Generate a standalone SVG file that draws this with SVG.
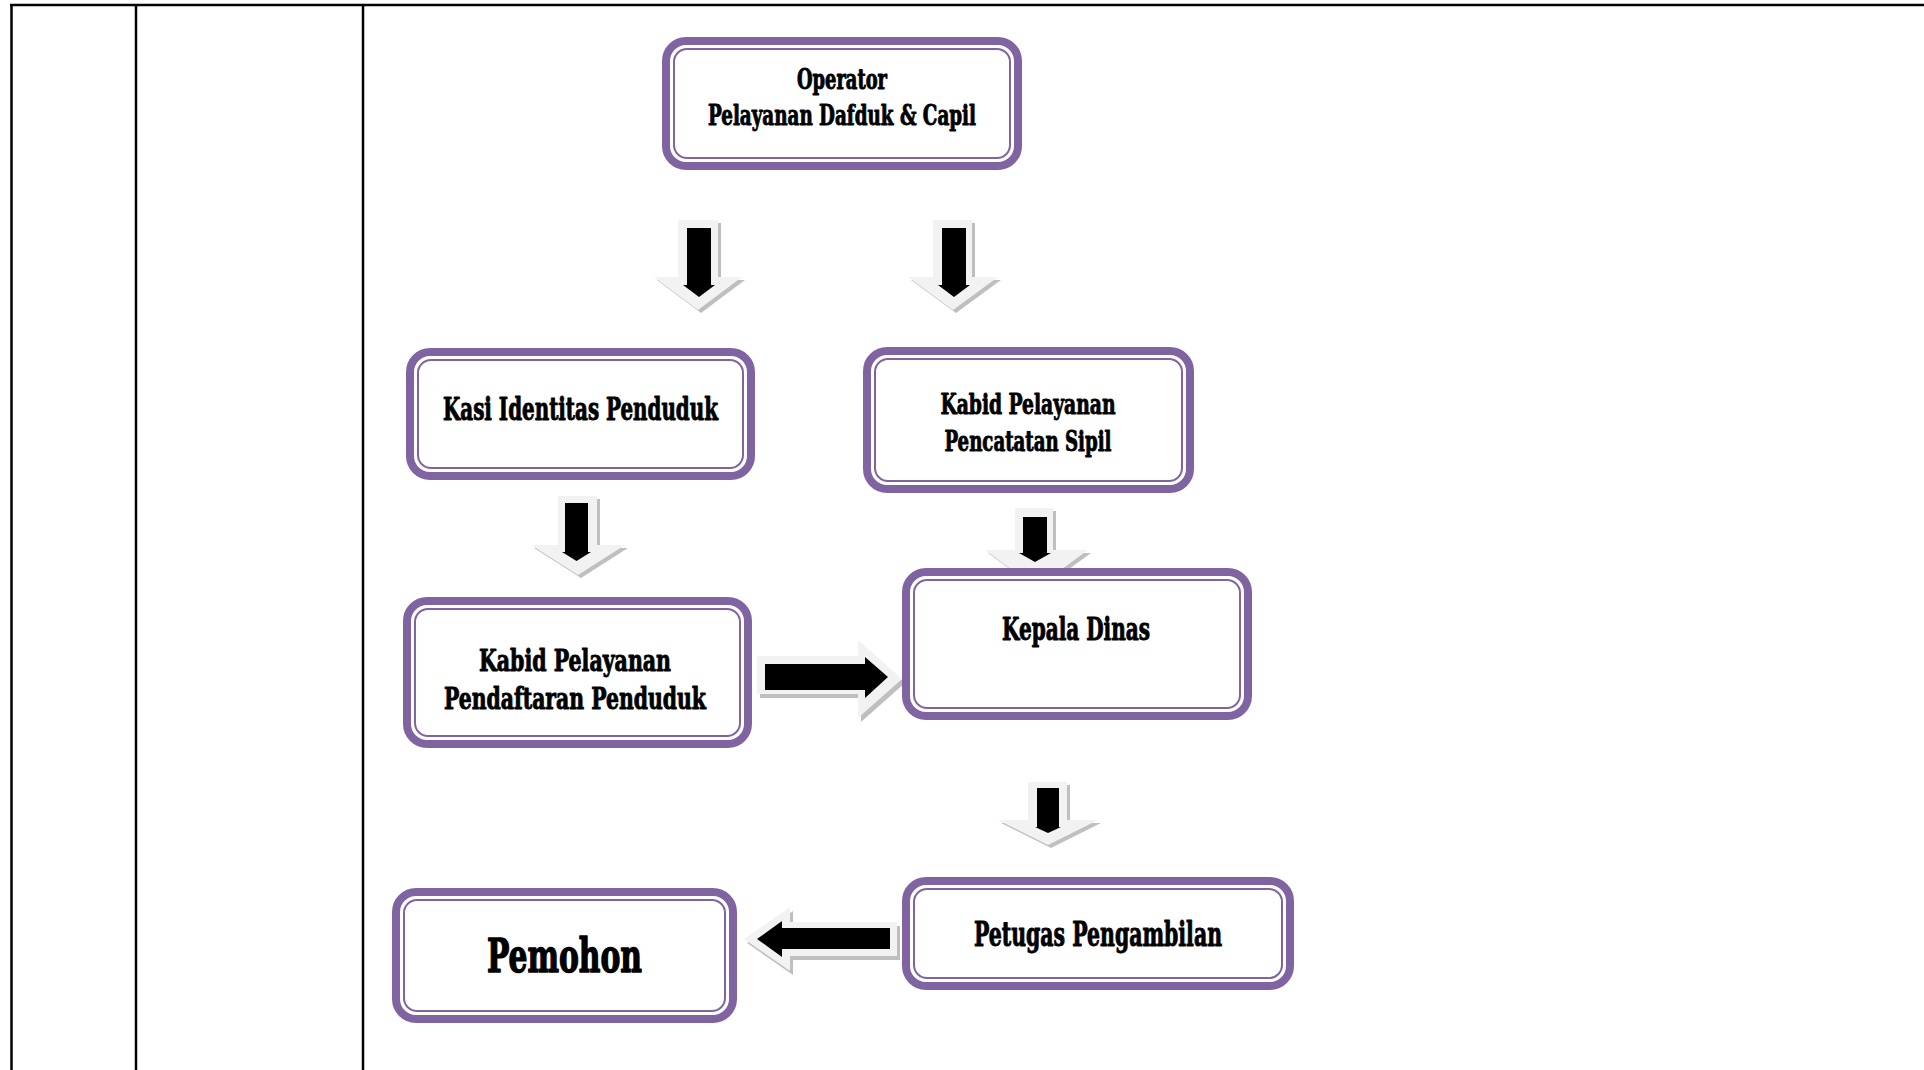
<svg xmlns="http://www.w3.org/2000/svg" width="1924" height="1070" viewBox="0 0 1924 1070">
  <style>
    .grid { stroke: #000; stroke-width: 2.5; fill: none; }
    .frame { fill: #fff; stroke: #8064A2; stroke-width: 8; }
    .frame-in { fill: none; stroke: #8064A2; stroke-width: 2; }
    .lbl { font-family: "DejaVu Serif Condensed", "DejaVu Serif", "Liberation Serif", serif; font-weight: bold; fill: #000; stroke: #000; stroke-width: 0.9; stroke-linejoin: round; text-anchor: middle; }
    .big { stroke-width: 1.4; }
    .arr-sh { fill: #BFBFBF; }
    .arr-lt { fill: #F2F2F2; }
    .arr-bk { fill: #000; }
  </style>

  <rect x="0" y="0" width="1924" height="1070" fill="#fff"/>

  <!-- table rules -->
  <g id="table">
    <line class="grid" x1="10" y1="5" x2="1924" y2="5"/>
    <line class="grid" x1="11.5" y1="4" x2="11.5" y2="1070"/>
    <line class="grid" x1="136" y1="4" x2="136" y2="1070"/>
    <line class="grid" x1="363" y1="4" x2="363" y2="1070"/>
  </g>

  <!-- block arrows: shadow, light body, black core -->
  <g id="connectors">
    <g id="arrow-op-kasi">
      <path class="arr-sh" transform="translate(3,3)" d="M678,220 H718 V277 H742 L698,310 L654,277 H678 Z"/>
      <path class="arr-lt" d="M678,220 H718 V277 H742 L698,310 L654,277 H678 Z"/>
      <path class="arr-bk" d="M687,228 H711 V285 H715 L699,297 L683,285 H687 Z"/>
    </g>
    <g id="arrow-op-capil">
      <path class="arr-sh" transform="translate(3,3)" d="M933,220 H972 V277 H998 L953,310 L908,277 H933 Z"/>
      <path class="arr-lt" d="M933,220 H972 V277 H998 L953,310 L908,277 H933 Z"/>
      <path class="arr-bk" d="M942,228 H966 V285 H970 L954,297 L938,285 H942 Z"/>
    </g>
    <g id="arrow-kasi-daftar">
      <path class="arr-sh" transform="translate(3,3)" d="M558,496 H597 V545 H625 L578,575 L531,545 H558 Z"/>
      <path class="arr-lt" d="M558,496 H597 V545 H625 L578,575 L531,545 H558 Z"/>
      <path class="arr-bk" d="M565,503 H588 V552 H591 L576.5,561 L562,552 H565 Z"/>
    </g>
    <g id="arrow-capil-kadis">
      <path class="arr-sh" transform="translate(3,3)" d="M1015,508 H1053 V550 H1088 L1036,588 L985,550 H1015 Z"/>
      <path class="arr-lt" d="M1015,508 H1053 V550 H1088 L1036,588 L985,550 H1015 Z"/>
      <path class="arr-bk" d="M1023,517 H1047 V553 H1051 L1035,562 L1019,553 H1023 Z"/>
    </g>
    <g id="arrow-daftar-kadis">
      <path class="arr-sh" transform="translate(3,4)" d="M757,656 H858 V640 L902,679 L858,718 V694 H757 Z"/>
      <path class="arr-lt" d="M757,656 H858 V640 L902,679 L858,718 V694 H757 Z"/>
      <path class="arr-bk" d="M765,664 H865 V657 L888,677 L865,698 V690 H765 Z"/>
    </g>
    <g id="arrow-kadis-petugas">
      <path class="arr-sh" transform="translate(3,3)" d="M1028,782 H1067 V820 H1098 L1048,845 L998,820 H1028 Z"/>
      <path class="arr-lt" d="M1028,782 H1067 V820 H1098 L1048,845 L998,820 H1028 Z"/>
      <path class="arr-bk" d="M1037,788 H1059 V827 H1061 L1048,833 L1035,827 H1037 Z"/>
    </g>
    <g id="arrow-petugas-pemohon">
      <path class="arr-sh" transform="translate(3,4)" d="M897,922 H790 V907 L744,939 L790,971 V956 H897 Z"/>
      <path class="arr-lt" d="M897,922 H790 V907 L744,939 L790,971 V956 H897 Z"/>
      <path class="arr-bk" d="M890,928 H782 V921 L757,939 L782,957 V949 H890 Z"/>
    </g>
  </g>

  <!-- operator -->
  <g id="node-operator">
    <rect class="frame" x="666" y="41" width="352" height="125" rx="20"/>
    <rect class="frame-in" x="674" y="49" width="336" height="109" rx="13"/>
    <text class="lbl" x="842" y="89" font-size="27" textLength="90" lengthAdjust="spacingAndGlyphs">Operator</text>
    <text class="lbl" x="842" y="125" font-size="27" textLength="268" lengthAdjust="spacingAndGlyphs">Pelayanan Dafduk &amp; Capil</text>
  </g>

  <!-- kasi identitas -->
  <g id="node-kasi">
    <rect class="frame" x="410" y="352" width="341" height="124" rx="20"/>
    <rect class="frame-in" x="418" y="360" width="325" height="108" rx="13"/>
    <text class="lbl" x="580.5" y="420" font-size="31" textLength="275" lengthAdjust="spacingAndGlyphs">Kasi Identitas Penduduk</text>
  </g>

  <!-- kabid pencatatan sipil -->
  <g id="node-capil">
    <rect class="frame" x="867" y="351" width="323" height="138" rx="20"/>
    <rect class="frame-in" x="875" y="359" width="307" height="122" rx="13"/>
    <text class="lbl" x="1028" y="414" font-size="28" textLength="175" lengthAdjust="spacingAndGlyphs">Kabid Pelayanan</text>
    <text class="lbl" x="1028" y="451" font-size="28" textLength="167" lengthAdjust="spacingAndGlyphs">Pencatatan Sipil</text>
  </g>

  <!-- kabid pendaftaran penduduk -->
  <g id="node-daftar">
    <rect class="frame" x="407" y="601" width="341" height="143" rx="20"/>
    <rect class="frame-in" x="415" y="609" width="325" height="127" rx="13"/>
    <text class="lbl" x="575" y="671" font-size="30" textLength="192" lengthAdjust="spacingAndGlyphs">Kabid Pelayanan</text>
    <text class="lbl" x="575" y="709" font-size="30" textLength="262" lengthAdjust="spacingAndGlyphs">Pendaftaran Penduduk</text>
  </g>

  <!-- kepala dinas -->
  <g id="node-kadis">
    <rect class="frame" x="906" y="572" width="342" height="144" rx="20"/>
    <rect class="frame-in" x="914" y="580" width="326" height="128" rx="13"/>
    <text class="lbl" x="1076" y="640" font-size="31" textLength="148" lengthAdjust="spacingAndGlyphs">Kepala Dinas</text>
  </g>

  <!-- petugas pengambilan -->
  <g id="node-petugas">
    <rect class="frame" x="906" y="881" width="384" height="105" rx="20"/>
    <rect class="frame-in" x="914" y="889" width="368" height="89" rx="13"/>
    <text class="lbl" x="1098" y="946" font-size="33" textLength="248" lengthAdjust="spacingAndGlyphs">Petugas Pengambilan</text>
  </g>

  <!-- pemohon -->
  <g id="node-pemohon">
    <rect class="frame" x="396" y="892" width="337" height="127" rx="20"/>
    <rect class="frame-in" x="404" y="900" width="321" height="111" rx="13"/>
    <text class="lbl big" x="564.5" y="972" font-size="46" textLength="155" lengthAdjust="spacingAndGlyphs">Pemohon</text>
  </g>
</svg>
